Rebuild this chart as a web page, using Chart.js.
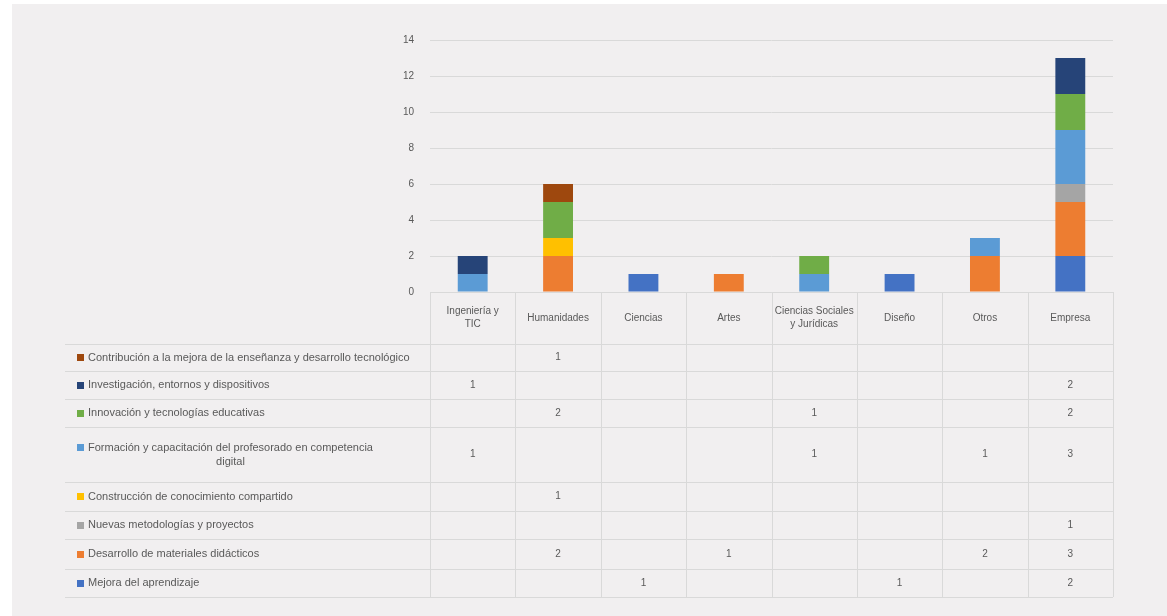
<!DOCTYPE html>
<html>
<head>
<meta charset="utf-8">
<script src="https://cdn.jsdelivr.net/npm/chart.js"></script>
<style>
  html, body { margin: 0; padding: 0; background: #ffffff; }
  #wrap { position: absolute; left: 12px; top: 4px; width: 1155px; height: 612px; background: #f1eff0; }
</style>
</head>
<body>
<div id="wrap"><canvas id="chart" width="1155" height="612"></canvas></div>
<script>
// --- Datos ---
const categories = [
  ['Ingeniería y', 'TIC'],
  ['Humanidades'],
  ['Ciencias'],
  ['Artes'],
  ['Ciencias Sociales', 'y Jurídicas'],
  ['Diseño'],
  ['Otros'],
  ['Empresa']
];

// series en orden de apilado (de abajo a arriba)
const seriesNames = [
  ['Mejora del aprendizaje'],
  ['Desarrollo de materiales didácticos'],
  ['Nuevas metodologías y proyectos'],
  ['Construcción de conocimiento compartido'],
  ['Formación y capacitación del profesorado en competencia', 'digital'],
  ['Innovación y tecnologías educativas'],
  ['Investigación, entornos y dispositivos'],
  ['Contribución a la mejora de la enseñanza y desarrollo tecnológico']
];

const mejora       = [0, 0, 1, 0, 0, 1, 0, 2];
const materiales   = [0, 2, 0, 1, 0, 0, 2, 3];
const metodologias = [0, 0, 0, 0, 0, 0, 0, 1];
const construccion = [0, 1, 0, 0, 0, 0, 0, 0];
const formacion    = [1, 0, 0, 0, 1, 0, 1, 3];
const innovacion   = [0, 2, 0, 0, 1, 0, 0, 2];
const investigacion= [1, 0, 0, 0, 0, 0, 0, 2];
const contribucion = [0, 1, 0, 0, 0, 0, 0, 0];

const seriesValues = [mejora, materiales, metodologias, construccion, formacion, innovacion, investigacion, contribucion];
const seriesColors = ['#4472c4', '#ed7d31', '#a5a5a5', '#ffc000', '#5b9bd5', '#70ad47', '#264478', '#9e480e'];

const yTicks = { min: 0, max: 14, step: 2 };

// --- Estilo de la tabla ---
const FONT = '10px "Liberation Sans", Arial, sans-serif';
const LEGEND_FONT = '11px "Liberation Sans", Arial, sans-serif';
const TEXT_COLOR = '#595959';
const LINE_COLOR = '#d9d9d9';
const tableLeft = 53;
const headerHeight = 52;
const rowHeights = [27, 28, 28, 55, 29, 28, 30, 28]; // filas de arriba a abajo

const dataTablePlugin = {
  id: 'dataTable',
  afterDraw(chart) {
    const ctx = chart.ctx;
    const x = chart.scales.x;
    const area = chart.chartArea;
    const n = categories.length;
    const colW = (area.right - area.left) / n;
    const top = area.bottom;
    const headerBottom = top + headerHeight;
    const totalRows = rowHeights.reduce((a, b) => a + b, 0);
    const bottom = headerBottom + totalRows;

    ctx.save();
    ctx.strokeStyle = LINE_COLOR;
    ctx.lineWidth = 1;

    // líneas verticales
    for (let i = 0; i <= n; i++) {
      const px = Math.round(area.left + i * colW) + 0.5;
      ctx.beginPath();
      ctx.moveTo(px, top);
      ctx.lineTo(px, bottom);
      ctx.stroke();
    }
    // línea superior de la cabecera
    ctx.beginPath();
    ctx.moveTo(area.left, Math.round(top) + 0.5);
    ctx.lineTo(area.right, Math.round(top) + 0.5);
    ctx.stroke();
    // líneas horizontales de filas
    let yy = headerBottom;
    for (let r = 0; r <= rowHeights.length; r++) {
      ctx.beginPath();
      ctx.moveTo(tableLeft, Math.round(yy) + 0.5);
      ctx.lineTo(area.right, Math.round(yy) + 0.5);
      ctx.stroke();
      if (r < rowHeights.length) yy += rowHeights[r];
    }

    ctx.font = FONT;
    ctx.fillStyle = TEXT_COLOR;
    ctx.textAlign = 'center';
    ctx.textBaseline = 'middle';

    // cabecera de categorías
    categories.forEach((lines, i) => {
      const cx = x.getPixelForValue(i);
      const cy = top + headerHeight / 2;
      const lh = 13;
      lines.forEach((t, k) => {
        ctx.fillText(t, cx, cy + (k - (lines.length - 1) / 2) * lh);
      });
    });

    // filas: la serie superior primero
    let rowTop = headerBottom;
    for (let r = 0; r < seriesValues.length; r++) {
      const s = seriesValues.length - 1 - r;
      const h = rowHeights[r];
      const cy = rowTop + h / 2;
      const lines = seriesNames[s];
      const lh = 14;

      // clave de leyenda
      const firstY = cy - (lines.length - 1) / 2 * lh;
      ctx.fillStyle = seriesColors[s];
      ctx.fillRect(tableLeft + 12, Math.round(firstY - 3.5), 7, 7);

      // texto de la serie
      ctx.font = LEGEND_FONT;
      ctx.fillStyle = TEXT_COLOR;
      ctx.textAlign = 'left';
      const textX = tableLeft + 23;
      const firstW = ctx.measureText(lines[0]).width;
      lines.forEach((t, k) => {
        const ly = firstY + k * lh;
        if (k === 0) {
          ctx.fillText(t, textX, ly);
        } else {
          ctx.textAlign = 'center';
          ctx.fillText(t, textX + firstW / 2, ly);
          ctx.textAlign = 'left';
        }
      });

      // valores
      ctx.font = FONT;
      ctx.textAlign = 'center';
      seriesValues[s].forEach((v, i) => {
        if (v) ctx.fillText(String(v), x.getPixelForValue(i), cy);
      });

      rowTop += h;
    }
    ctx.restore();
  }
};

new Chart(document.getElementById('chart'), {
  type: 'bar',
  data: {
    labels: categories.map(c => c.join(' ')),
    datasets: seriesValues.map((vals, i) => ({
      label: seriesNames[i].join(' '),
      data: vals,
      backgroundColor: seriesColors[i],
      borderWidth: 0,
      categoryPercentage: 1,
      barPercentage: 0.35
    }))
  },
  options: {
    responsive: false,
    animation: false,
    layout: { padding: { top: 36, right: 54, bottom: 324, left: 0 } },
    plugins: {
      legend: { display: false },
      tooltip: { enabled: false }
    },
    scales: {
      x: {
        stacked: true,
        display: false
      },
      y: {
        stacked: true,
        min: yTicks.min,
        max: yTicks.max,
        afterFit(scale) { scale.width = 418; },
        ticks: {
          stepSize: yTicks.step,
          color: TEXT_COLOR,
          font: { family: '"Liberation Sans", Arial, sans-serif', size: 10 },
          padding: 16
        },
        grid: { color: LINE_COLOR, drawTicks: false },
        border: { display: false }
      }
    }
  },
  plugins: [dataTablePlugin]
});
</script>
</body>
</html>
